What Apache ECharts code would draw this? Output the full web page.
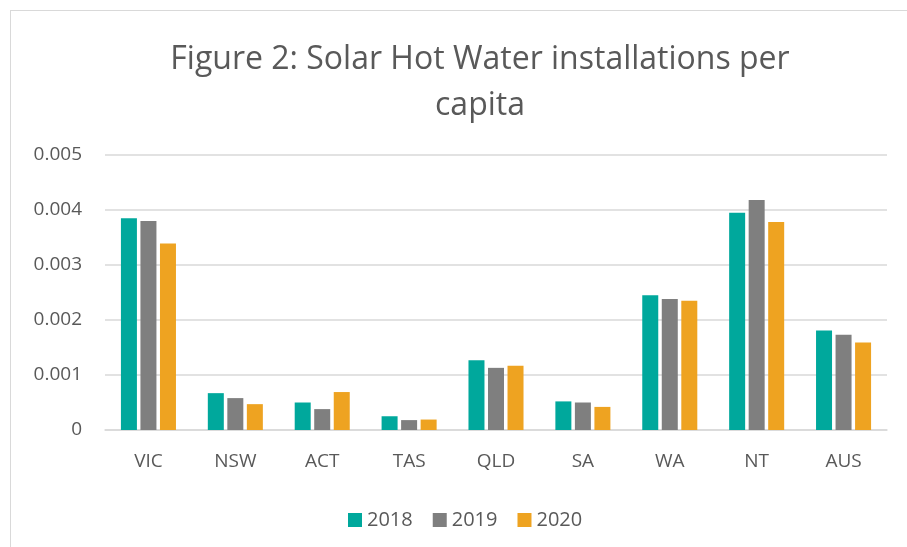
<!DOCTYPE html>
<html>
<head>
<meta charset="utf-8">
<script src="https://cdn.jsdelivr.net/npm/echarts@6/dist/echarts.min.js"></script>
<style>
  html, body { margin: 0; padding: 0; background: #fff; }
  .frame { position: absolute; left: 10px; top: 10px; width: 897px; height: 537px;
    border-left: 1px solid #d9d9d9; border-top: 1px solid #d9d9d9; }
  #chart { position: absolute; left: 0; top: 0; width: 907px; height: 547px; }
</style>
</head>
<body>
<div class="frame"></div>
<div id="chart"></div>
<script>
const regions = ['VIC', 'NSW', 'ACT', 'TAS', 'QLD', 'SA', 'WA', 'NT', 'AUS']
const years = ['2018', '2019', '2020']
const values2018 = [0.00385, 0.00067, 0.00050, 0.00025, 0.00127, 0.00052, 0.00245, 0.00395, 0.00181]
const values2019 = [0.00380, 0.00058, 0.00038, 0.00018, 0.00113, 0.00050, 0.00238, 0.00418, 0.00173]
const values2020 = [0.00339, 0.00047, 0.00069, 0.00019, 0.00117, 0.00042, 0.00235, 0.00378, 0.00159]
const yTicks = [0, 0.001, 0.002, 0.003, 0.004, 0.005]
const titleText = 'Figure 2: Solar Hot Water installations per\ncapita'

const colors = ['#00a89c', '#7f7f7f', '#eea321']
const textColor = '#595959'
const font = 'Open Sans'

const seriesData = [values2018, values2019, values2020].map((vals, i) => ({
  type: 'bar',
  name: years[i],
  data: vals,
  barWidth: 16,
  barGap: '22%',
  itemStyle: { color: colors[i] }
}))

const chart = echarts.init(document.getElementById('chart'), null, { renderer: 'canvas' })
chart.setOption({
  animation: false,
  graphic: [{
    type: 'text',
    x: 480,
    y: 83,
    style: {
      text: titleText,
      align: 'center',
      verticalAlign: 'middle',
      fontFamily: font,
      fontSize: 32,
      lineHeight: 46,
      fill: textColor
    }
  }],
  legend: {
    data: years,
    left: 343,
    top: 505,
    itemWidth: 14,
    itemHeight: 14,
    itemGap: 20,
    icon: 'rect',
    textStyle: { fontFamily: font, fontSize: 20, color: textColor }
  },
  grid: { left: 105, right: 20, top: 155, bottom: 117, containLabel: false },
  xAxis: {
    type: 'category',
    data: regions,
    axisTick: { show: false },
    axisLine: { lineStyle: { color: '#d9d9d9', width: 1.5 } },
    axisLabel: { fontFamily: font, fontSize: 19, color: textColor, margin: 22 }
  },
  yAxis: {
    type: 'value',
    min: yTicks[0],
    max: yTicks[yTicks.length - 1],
    interval: 0.001,
    axisLine: { show: false },
    axisTick: { show: false },
    splitLine: { lineStyle: { color: '#d9d9d9', width: 1.5 } },
    axisLabel: {
      fontFamily: font, fontSize: 19, color: textColor, margin: 23,
      formatter: v => (v === 0 ? '0' : v.toFixed(3))
    }
  },
  series: seriesData
})
</script>
</body>
</html>
